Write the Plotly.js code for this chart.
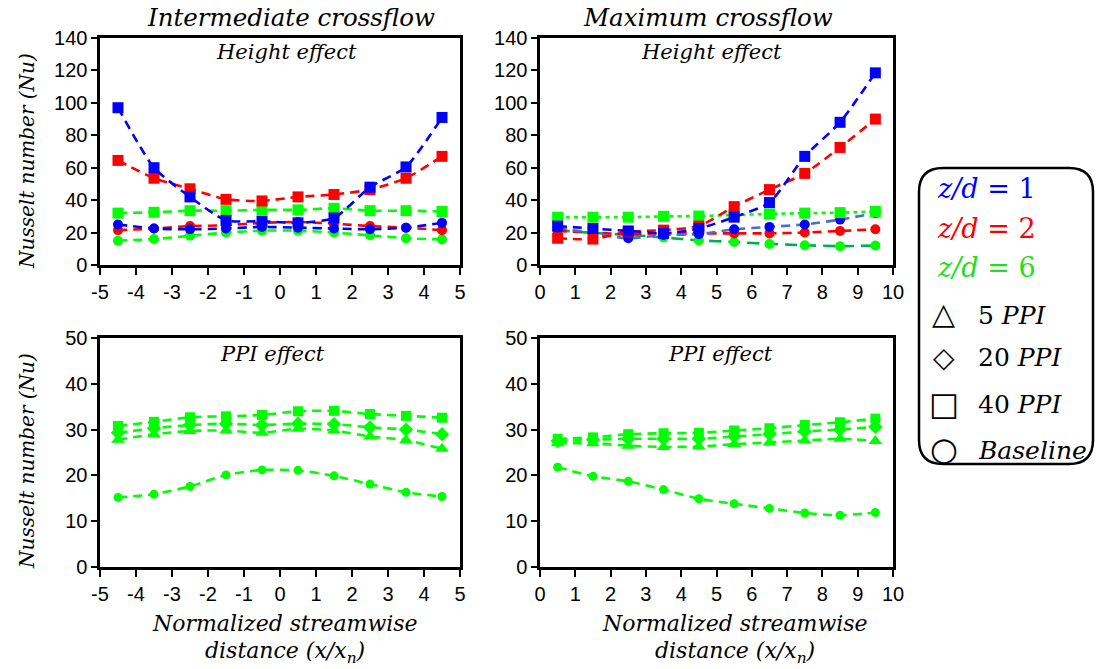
<!DOCTYPE html>
<html>
<head>
<meta charset="utf-8">
<script src="https://cdn.plot.ly/plotly-3.0.1.min.js"></script>
<style>html,body{margin:0;padding:0;background:#fff;}#chart{width:1096px;height:669px;}</style>
</head>
<body>
<div id="chart"></div>
<script>
// ---------- data ----------
const xInter = [-4.5, -3.5, -2.5, -1.5, -0.5, 0.5, 1.5, 2.5, 3.5, 4.5];
const xMax = [0.5, 1.5, 2.5, 3.5, 4.5, 5.5, 6.5, 7.5, 8.5, 9.5];

// tick labels for the intermediate-crossflow x axis (hyphen minus as in the reference)
const interTickVals = [-5, -4, -3, -2, -1, 0, 1, 2, 3, 4, 5];
const interTickText = ['-5', '-4', '-3', '-2', '-1', '0', '1', '2', '3', '4', '5'];

// Top-left: Intermediate crossflow, height effect (40 PPI squares, baseline circles)
const tlZ1_40 = [97, 60, 42, 27.5, 27, 26, 29, 48, 60.5, 91];
const tlZ2_40 = [64.5, 53.5, 47, 40.5, 39.5, 42, 43.5, 46.5, 53.5, 67];
const tlZ6_40 = [32, 32.5, 33.5, 33.5, 34, 34, 35, 33.5, 33.5, 33];
const tlZ1_base = [25, 22.5, 22, 22.5, 23.5, 23, 22.5, 22, 23, 26];
const tlZ2_base = [21.5, 22.5, 24, 24.5, 26, 26.5, 25.5, 24, 23, 21.5];
const tlZ6_base = [15, 16, 18, 20, 21.2, 21.2, 20, 18.3, 16.5, 15.8];

// Top-right: Maximum crossflow, height effect
const trZ1_40 = [24, 22.5, 21, 19.5, 22.5, 29.5, 38.5, 67, 88, 118.5];
const trZ2_40 = [16.5, 16, 20.5, 21.5, 24, 36, 46.5, 56.5, 72.5, 90];
const trZ6_40 = [29.5, 29.5, 29.5, 30, 30.2, 30.8, 31.5, 32, 32.3, 33];
const trZ1_base = [23, 19.5, 16.5, 18.5, 19, 22, 23.5, 25, 28, 32];
const trZ2_base = [21, 20, 19, 19.5, 19.5, 19.5, 19.5, 20, 21, 22];
const trZ6_base = [21.5, 19.8, 18.6, 17, 15.2, 14.2, 13, 12.2, 11.6, 12];

// Bottom-left: Intermediate crossflow, PPI effect (z/d = 6)
const blPPI5 = [27.8, 29, 29.7, 29.8, 29.3, 30.2, 29.8, 28.5, 27.7, 25.8];
const blPPI20 = [29.3, 30.3, 31, 31.3, 31, 31.3, 31.2, 30.5, 30, 29];
const blPPI40 = [30.8, 31.7, 32.7, 32.9, 33.2, 34, 34.1, 33.4, 33, 32.6];
const blBase = [15.2, 15.9, 17.6, 20.1, 21.2, 21.1, 19.9, 18.1, 16.3, 15.4];

// Bottom-right: Maximum crossflow, PPI effect (z/d = 6)
const brPPI5 = [27, 27, 26.5, 26.2, 26.3, 26.8, 27.2, 27.6, 28, 27.5];
const brPPI20 = [27.5, 27.8, 28, 28, 28, 28.5, 29, 29.6, 30, 30.6];
const brPPI40 = [28, 28.3, 29, 29.2, 29.3, 29.8, 30.3, 31, 31.6, 32.4];
const brBase = [21.8, 19.8, 18.7, 16.9, 14.9, 13.8, 12.8, 11.8, 11.3, 11.9];

// ---------- styling ----------
const W = 1096, H = 669;
const px = v => v / W;
const py = v => 1 - v / H;
const BLUE = '#0000FF', RED = '#FF0000', GREEN = '#00FF00';
const DASH = '9px,6px';
const SERIF = 'DejaVu Serif';

function tr(x, y, xa, ya, color, symbol, lineColor, dash, size) {
  return {
    x: x, y: y, xaxis: xa, yaxis: ya, type: 'scatter', mode: 'lines+markers',
    line: {color: lineColor || color, width: 2.6, dash: dash || DASH, shape: 'spline', smoothing: 0.6},
    marker: {color: color, symbol: symbol, size: size || (symbol === 'square' ? 11 : 10)},
    showlegend: false, hoverinfo: 'skip'
  };
}

const traces = [
  // top-left
  tr(xInter, tlZ6_base, 'x', 'y', GREEN, 'circle'),
  tr(xInter, tlZ2_base, 'x', 'y', RED, 'circle'),
  tr(xInter, tlZ1_base, 'x', 'y', BLUE, 'circle'),
  tr(xInter, tlZ6_40, 'x', 'y', GREEN, 'square'),
  tr(xInter, tlZ2_40, 'x', 'y', RED, 'square'),
  tr(xInter, tlZ1_40, 'x', 'y', BLUE, 'square'),
  // top-right
  tr(xMax, trZ6_base, 'x2', 'y2', GREEN, 'circle', '#00B050', '12px,7px'),
  tr(xMax, trZ2_base, 'x2', 'y2', RED, 'circle'),
  tr(xMax, trZ1_base, 'x2', 'y2', BLUE, 'circle', '#4472C4'),
  tr(xMax, trZ6_40, 'x2', 'y2', GREEN, 'square', GREEN, '4px,4px'),
  tr(xMax, trZ2_40, 'x2', 'y2', RED, 'square'),
  tr(xMax, trZ1_40, 'x2', 'y2', BLUE, 'square'),
  // bottom-left
  tr(xInter, blBase, 'x3', 'y3', GREEN, 'circle', GREEN, DASH, 9),
  tr(xInter, blPPI5, 'x3', 'y3', GREEN, 'triangle-up', GREEN, DASH, 12),
  tr(xInter, blPPI20, 'x3', 'y3', GREEN, 'diamond', GREEN, DASH, 11),
  tr(xInter, blPPI40, 'x3', 'y3', GREEN, 'square', GREEN, DASH, 10),
  // bottom-right
  tr(xMax, brBase, 'x4', 'y4', GREEN, 'circle', GREEN, DASH, 9),
  tr(xMax, brPPI5, 'x4', 'y4', GREEN, 'triangle-up', GREEN, DASH, 12),
  tr(xMax, brPPI20, 'x4', 'y4', GREEN, 'diamond', GREEN, DASH, 11),
  tr(xMax, brPPI40, 'x4', 'y4', GREEN, 'square', GREEN, DASH, 10)
];

const tickFont = {family: 'Liberation Sans, Arial, sans-serif', size: 20, color: '#000'};
function xax(domain, range, anchor, inter) {
  const a = {domain: domain, range: range, anchor: anchor, dtick: 1, tick0: 0,
    showgrid: false, zeroline: false, showline: true, mirror: true, linecolor: '#000', linewidth: 2.6,
    ticks: 'outside', ticklen: 7, tickwidth: 2, tickcolor: '#000', tickfont: tickFont, fixedrange: true};
  if (inter) { a.tickmode = 'array'; a.tickvals = interTickVals; a.ticktext = interTickText; }
  return a;
}
function yax(domain, range, dtick, anchor) {
  return {domain: domain, range: range, anchor: anchor, dtick: dtick, tick0: 0,
    showgrid: false, zeroline: false, showline: true, mirror: true, linecolor: '#000', linewidth: 2.6,
    ticks: 'outside', ticklen: 6, tickwidth: 2, tickcolor: '#000', tickfont: tickFont, fixedrange: true};
}

const dxL = [px(100), px(460)], dxR = [px(540), px(893)];
const dyT = [py(265), py(38)], dyB = [py(567), py(338)];

function ann(text, x, y, size, color, extra) {
  return Object.assign({text: text, x: px(x), y: py(y), xref: 'paper', yref: 'paper',
    showarrow: false, xanchor: 'center', yanchor: 'middle',
    font: {family: SERIF, size: size, color: color || '#000'}}, extra || {});
}
function sym(ch, x, y, size) {
  return {text: ch, x: px(x), y: py(y), xref: 'paper', yref: 'paper', showarrow: false,
    xanchor: 'center', yanchor: 'middle', font: {family: 'DejaVu Sans', size: size, color: '#000'}};
}

const annotations = [
  ann('<i>Intermediate crossflow</i>', 291, 17, 24.5),
  ann('<i>Maximum crossflow</i>', 708, 17, 24.5),
  ann('<i>Height effect</i>', 286, 52, 21),
  ann('<i>Height effect</i>', 711, 52, 21),
  ann('<i>PPI effect</i>', 272, 354, 21),
  ann('<i>PPI effect</i>', 720, 354, 21),
  ann('<i>Nusselt number (Nu)</i>', 27, 161, 20, '#000', {textangle: -90}),
  ann('<i>Nusselt number (Nu)</i>', 27, 461, 20, '#000', {textangle: -90}),
  ann('<i>Normalized streamwise</i>', 285, 623, 22),
  ann('<i>distance (x/x<sub>n</sub>)</i>', 285, 652, 22),
  ann('<i>Normalized streamwise</i>', 735, 623, 22),
  ann('<i>distance (x/x<sub>n</sub>)</i>', 735, 652, 22),
  // legend
  ann('<i>z/d</i> = 1', 935, 189, 27, BLUE, {xanchor: 'left'}),
  ann('<i>z/d</i> = 2', 935, 228, 27, RED, {xanchor: 'left'}),
  ann('<i>z/d</i> = 6', 935, 267, 27, '#22DD22', {xanchor: 'left'}),
  sym('\u25B3', 944, 313, 30),
  sym('\u25C7', 944, 357, 28),
  sym('\u25A1', 944, 404, 32),
  sym('\u25CB', 944, 449, 32),
  ann('5 <i>PPI</i>', 976, 315, 25, '#000', {xanchor: 'left'}),
  ann('20 <i>PPI</i>', 976, 358, 25, '#000', {xanchor: 'left'}),
  ann('40 <i>PPI</i>', 976, 404, 25, '#000', {xanchor: 'left'}),
  ann('<i>Baseline</i>', 976, 450, 25, '#000', {xanchor: 'left'})
];

// rounded legend frame
function roundedRect(x0, y0, x1, y1, r) {
  const X = v => px(v), Y = v => py(v);
  return 'M ' + X(x0 + r) + ' ' + Y(y0) +
    ' L ' + X(x1 - r) + ' ' + Y(y0) +
    ' Q ' + X(x1) + ' ' + Y(y0) + ' ' + X(x1) + ' ' + Y(y0 + r) +
    ' L ' + X(x1) + ' ' + Y(y1 - r) +
    ' Q ' + X(x1) + ' ' + Y(y1) + ' ' + X(x1 - r) + ' ' + Y(y1) +
    ' L ' + X(x0 + r) + ' ' + Y(y1) +
    ' Q ' + X(x0) + ' ' + Y(y1) + ' ' + X(x0) + ' ' + Y(y1 - r) +
    ' L ' + X(x0) + ' ' + Y(y0 + r) +
    ' Q ' + X(x0) + ' ' + Y(y0) + ' ' + X(x0 + r) + ' ' + Y(y0) + ' Z';
}

const layout = {
  width: W, height: H, margin: {l: 0, r: 0, t: 0, b: 0},
  paper_bgcolor: '#fff', plot_bgcolor: '#fff', showlegend: false,
  xaxis: xax(dxL, [-5, 5], 'y', true),
  yaxis: yax(dyT, [0, 140], 20, 'x'),
  xaxis2: xax(dxR, [0, 10], 'y2'),
  yaxis2: yax(dyT, [0, 140], 20, 'x2'),
  xaxis3: xax(dxL, [-5, 5], 'y3', true),
  yaxis3: yax(dyB, [0, 50], 10, 'x3'),
  xaxis4: xax(dxR, [0, 10], 'y4'),
  yaxis4: yax(dyB, [0, 50], 10, 'x4'),
  annotations: annotations,
  shapes: [{type: 'path', xref: 'paper', yref: 'paper', path: roundedRect(919, 168, 1093, 464, 24),
    line: {color: '#000', width: 2.5}, fillcolor: 'rgba(0,0,0,0)'}]
};

Plotly.newPlot('chart', traces, layout, {staticPlot: true, displayModeBar: false});
</script>
</body>
</html>
